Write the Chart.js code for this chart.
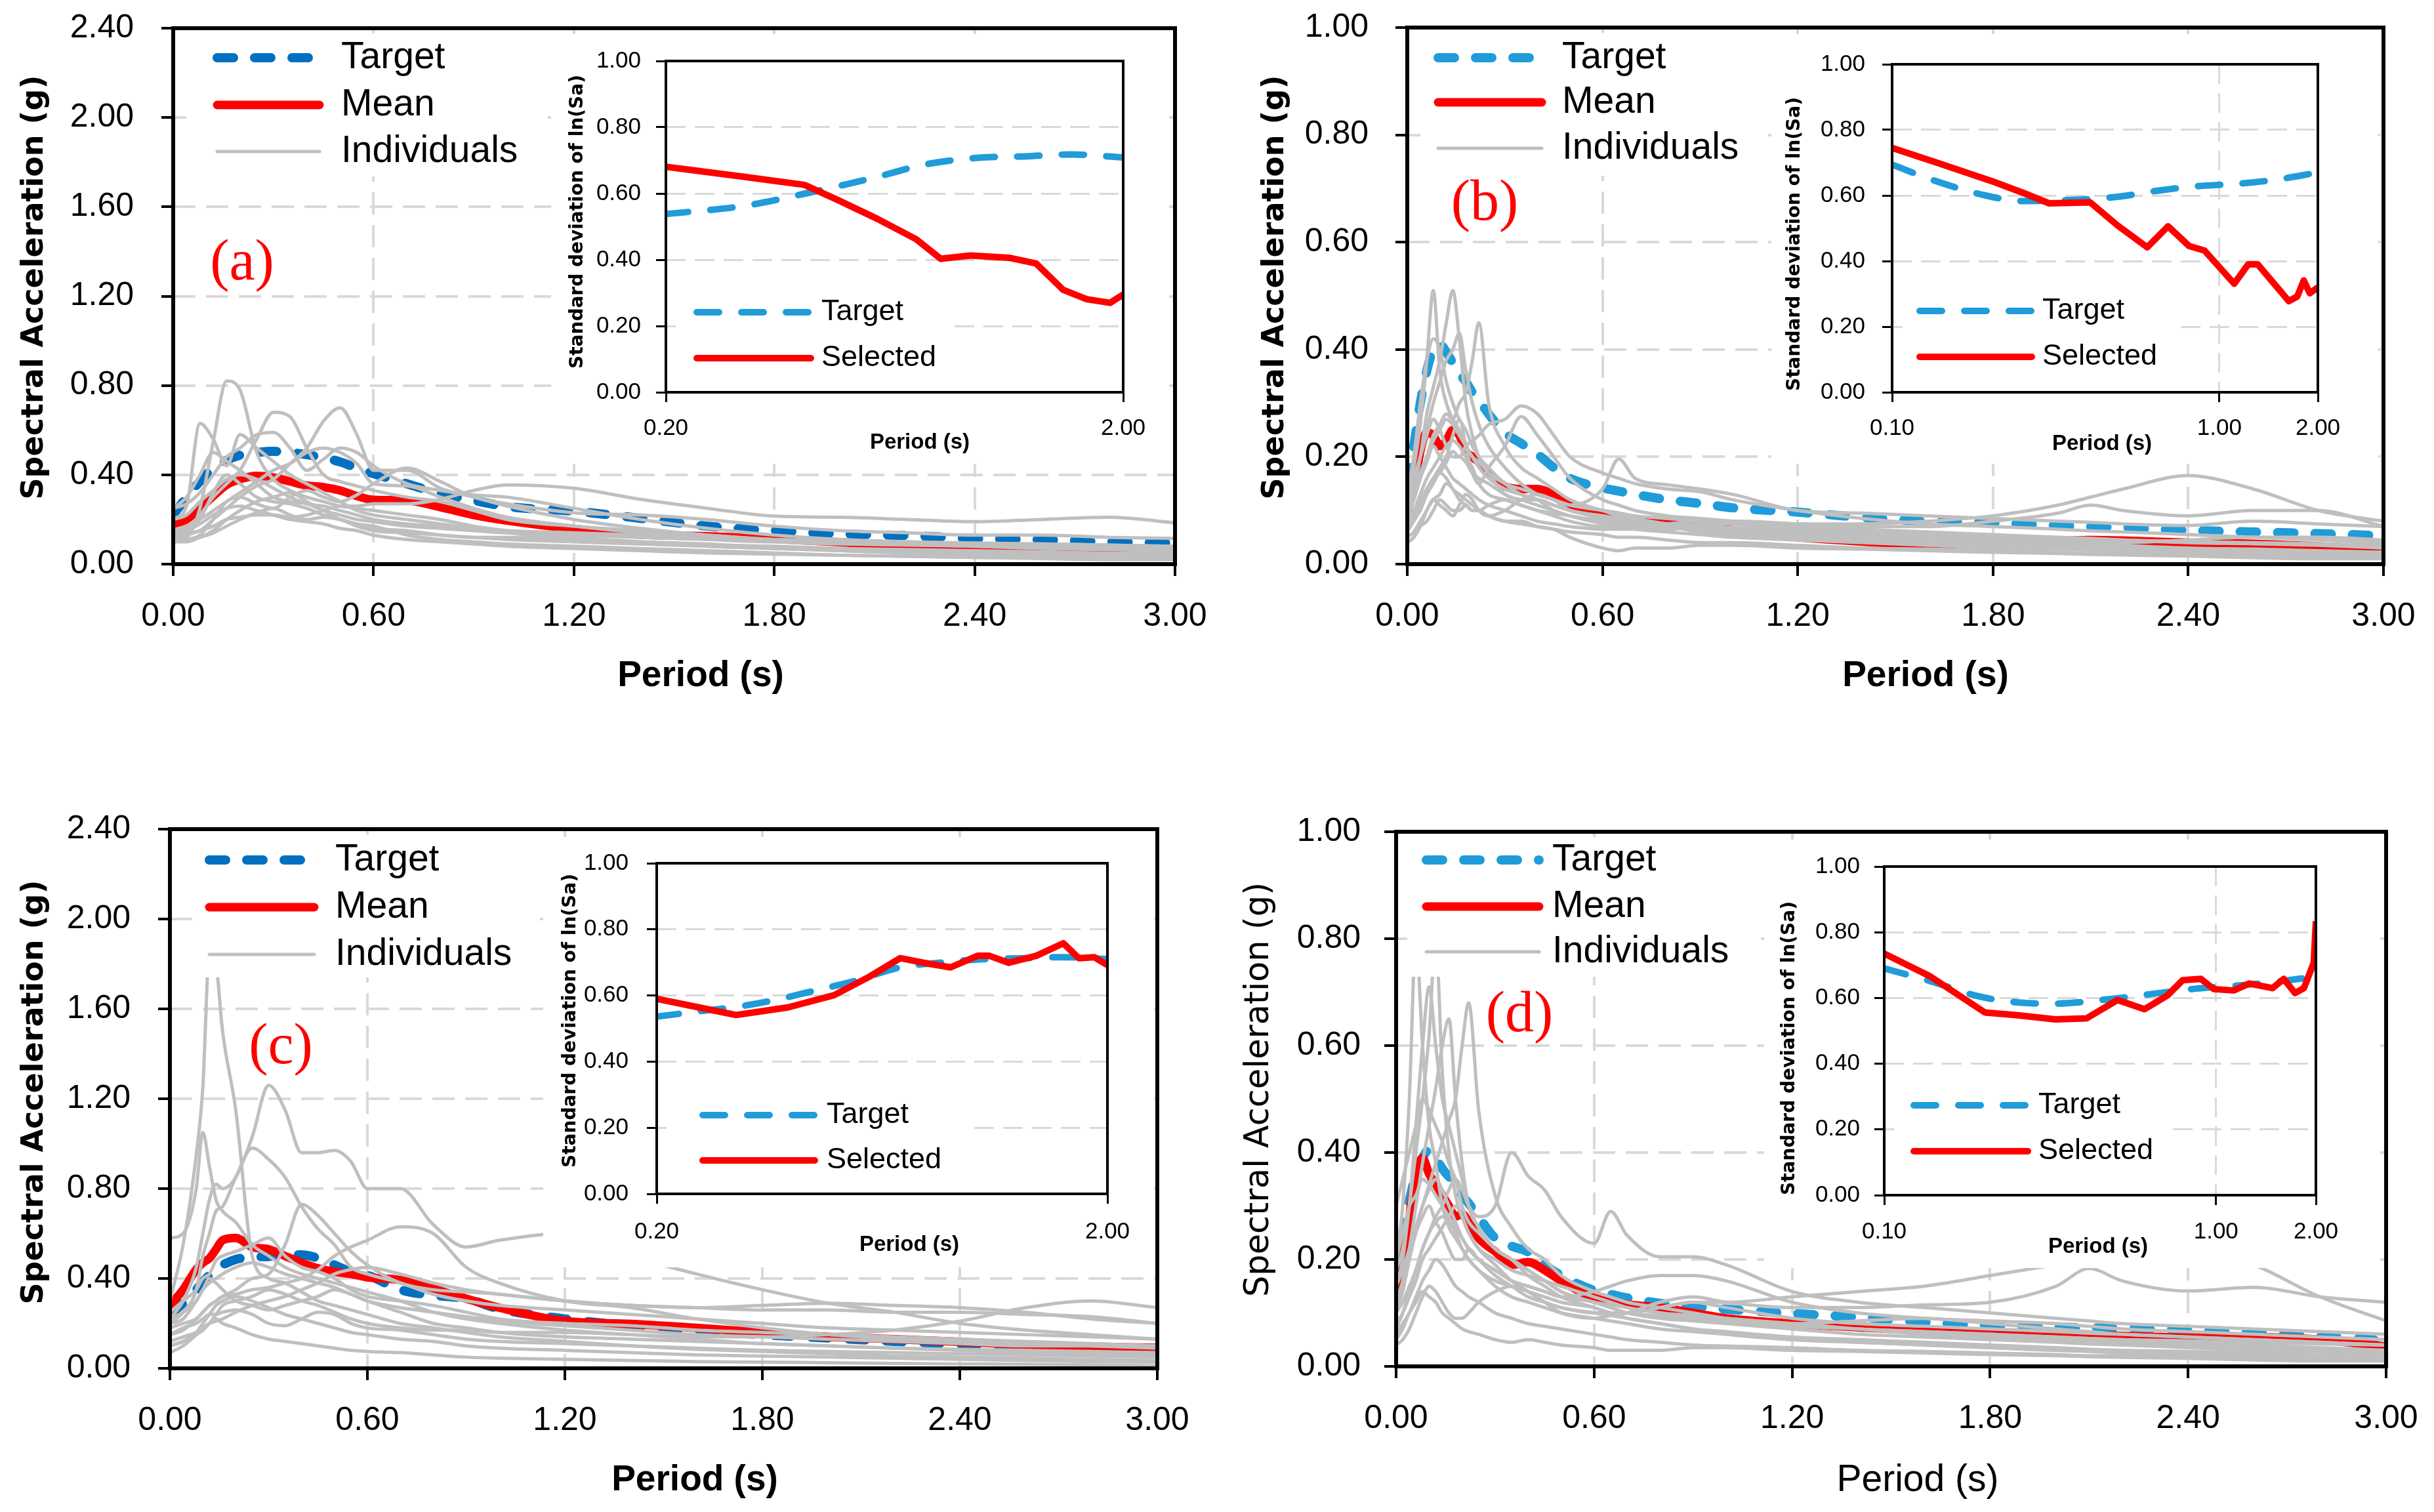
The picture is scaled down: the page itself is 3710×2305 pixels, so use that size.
<!DOCTYPE html>
<html>
<head>
<meta charset="utf-8">
<script src="https://cdn.jsdelivr.net/npm/chart.js@4.4.1/dist/chart.umd.min.js"></script>
<style>
  html, body { margin: 0; padding: 0; background: #fff; }
  body { width: 3710px; height: 2305px; position: relative; overflow: hidden; }
  canvas { position: absolute; }
  canvas.inset { background: #fff; }
</style>
</head>
<body>
<canvas id="mainA"></canvas>
<canvas id="mainB"></canvas>
<canvas id="mainC"></canvas>
<canvas id="mainD"></canvas>
<canvas id="insetA" class="inset"></canvas>
<canvas id="insetB" class="inset"></canvas>
<canvas id="insetC" class="inset"></canvas>
<canvas id="insetD" class="inset"></canvas>
<script>
// ---- tick labels ----
const periodTicks = [0, 0.6, 1.2, 1.8, 2.4, 3.0];
const saTicksAC = [0, 0.4, 0.8, 1.2, 1.6, 2.0, 2.4];
const saTicksBD = [0, 0.2, 0.4, 0.6, 0.8, 1.0];
const sdTicks = [0, 0.2, 0.4, 0.6, 0.8, 1.0];
const insetTicksAC = [0.2, 2.0];
const insetTicksBD = [0.1, 1.0, 2.0];

// ---- panel (a) ----
const periodsA = [0, 0.04, 0.08, 0.12, 0.16, 0.2, 0.25, 0.3, 0.35, 0.4, 0.45, 0.5, 0.55, 0.6, 0.7, 0.8, 0.9, 1.0, 1.2, 1.4, 1.6, 1.8, 2.0, 2.2, 2.4, 2.6, 2.8, 3.0];
const targetA = [0.22, 0.30, 0.37, 0.43, 0.465, 0.488, 0.50, 0.505, 0.50, 0.49, 0.476, 0.458, 0.43, 0.405, 0.36, 0.315, 0.285, 0.258, 0.237, 0.205, 0.17, 0.15, 0.135, 0.128, 0.115, 0.11, 0.10, 0.095];
const meanA = [0.18, 0.20, 0.25, 0.305, 0.355, 0.38, 0.395, 0.388, 0.37, 0.352, 0.345, 0.33, 0.305, 0.288, 0.285, 0.255, 0.22, 0.195, 0.158, 0.132, 0.125, 0.113, 0.098, 0.082, 0.08, 0.075, 0.07, 0.065];
const individualsA = [
  [0.11, 0.12, 0.25, 0.55, 0.82, 0.78, 0.5, 0.38, 0.33, 0.30, 0.28, 0.26, 0.25, 0.24, 0.22, 0.20, 0.17, 0.15, 0.12, 0.10, 0.08, 0.07, 0.06, 0.05, 0.045, 0.04, 0.035, 0.03],
  [0.13, 0.14, 0.15, 0.2, 0.25, 0.3, 0.35, 0.38, 0.45, 0.52, 0.64, 0.70, 0.58, 0.42, 0.42, 0.34, 0.3, 0.26, 0.2, 0.16, 0.13, 0.11, 0.10, 0.09, 0.08, 0.07, 0.065, 0.06],
  [0.14, 0.16, 0.22, 0.3, 0.36, 0.42, 0.56, 0.68, 0.66, 0.52, 0.40, 0.37, 0.35, 0.33, 0.30, 0.28, 0.24, 0.2, 0.17, 0.15, 0.13, 0.11, 0.10, 0.09, 0.085, 0.08, 0.07, 0.06],
  [0.2, 0.26, 0.63, 0.56, 0.44, 0.58, 0.52, 0.46, 0.40, 0.36, 0.32, 0.28, 0.24, 0.22, 0.2, 0.18, 0.16, 0.14, 0.11, 0.09, 0.08, 0.07, 0.06, 0.05, 0.045, 0.04, 0.035, 0.03],
  [0.25, 0.27, 0.32, 0.4, 0.48, 0.52, 0.58, 0.59, 0.52, 0.42, 0.47, 0.52, 0.5, 0.44, 0.36, 0.33, 0.31, 0.30, 0.25, 0.2, 0.16, 0.13, 0.11, 0.10, 0.09, 0.085, 0.08, 0.075],
  [0.12, 0.13, 0.15, 0.17, 0.2, 0.21, 0.22, 0.22, 0.21, 0.22, 0.24, 0.26, 0.26, 0.27, 0.27, 0.29, 0.33, 0.355, 0.34, 0.29, 0.25, 0.215, 0.21, 0.2, 0.19, 0.2, 0.21, 0.185],
  [0.1, 0.11, 0.13, 0.2, 0.28, 0.3, 0.27, 0.25, 0.3, 0.33, 0.3, 0.28, 0.31, 0.36, 0.43, 0.37, 0.3, 0.27, 0.23, 0.22, 0.2, 0.17, 0.15, 0.14, 0.13, 0.13, 0.12, 0.115],
  [0.1, 0.1, 0.12, 0.14, 0.17, 0.2, 0.23, 0.25, 0.22, 0.2, 0.21, 0.2, 0.18, 0.17, 0.13, 0.11, 0.1, 0.09, 0.08, 0.07, 0.06, 0.05, 0.04, 0.035, 0.03, 0.025, 0.02, 0.02],
  [0.15, 0.17, 0.2, 0.24, 0.28, 0.32, 0.37, 0.42, 0.45, 0.5, 0.52, 0.5, 0.45, 0.36, 0.35, 0.3, 0.25, 0.21, 0.17, 0.14, 0.12, 0.1, 0.09, 0.085, 0.08, 0.075, 0.07, 0.07],
  [0.12, 0.14, 0.2, 0.32, 0.4, 0.36, 0.3, 0.28, 0.27, 0.25, 0.22, 0.2, 0.17, 0.15, 0.14, 0.13, 0.12, 0.11, 0.1, 0.09, 0.085, 0.08, 0.07, 0.065, 0.06, 0.055, 0.05, 0.05],
  [0.25, 0.3, 0.4, 0.5, 0.46, 0.42, 0.36, 0.3, 0.28, 0.27, 0.24, 0.22, 0.2, 0.19, 0.17, 0.16, 0.15, 0.14, 0.13, 0.12, 0.11, 0.1, 0.1, 0.095, 0.09, 0.09, 0.085, 0.08],
  [0.1, 0.11, 0.12, 0.15, 0.2, 0.24, 0.28, 0.3, 0.32, 0.28, 0.24, 0.2, 0.18, 0.16, 0.15, 0.13, 0.12, 0.12, 0.11, 0.1, 0.09, 0.075, 0.065, 0.06, 0.055, 0.05, 0.045, 0.04],
  [0.13, 0.15, 0.18, 0.22, 0.25, 0.26, 0.24, 0.22, 0.2, 0.19, 0.18, 0.16, 0.15, 0.13, 0.11, 0.1, 0.09, 0.08, 0.07, 0.06, 0.05, 0.045, 0.04, 0.035, 0.03, 0.028, 0.025, 0.022],
  [0.2, 0.22, 0.28, 0.33, 0.38, 0.4, 0.38, 0.34, 0.3, 0.27, 0.26, 0.24, 0.22, 0.2, 0.18, 0.17, 0.16, 0.15, 0.14, 0.13, 0.12, 0.11, 0.105, 0.1, 0.095, 0.09, 0.085, 0.08]
];
const insetTargetPeriodsA = [0.2, 0.298, 0.407, 0.579, 0.733, 0.964, 1.217, 1.54, 2.0];
const insetTargetA = [0.538, 0.563, 0.601, 0.65, 0.687, 0.708, 0.712, 0.718, 0.709];
const insetSelectedPeriodsA = [0.2, 0.298, 0.402, 0.476, 0.579, 0.705, 0.798, 0.927, 1.125, 1.29, 1.479, 1.664, 1.871, 2.0];
const insetSelectedA = [0.681, 0.65, 0.626, 0.58, 0.524, 0.462, 0.403, 0.413, 0.406, 0.389, 0.309, 0.281, 0.27, 0.295];

// ---- panel (b) ----
const periodsB = [0, 0.02, 0.04, 0.06, 0.08, 0.1, 0.12, 0.14, 0.16, 0.18, 0.2, 0.22, 0.25, 0.3, 0.35, 0.4, 0.45, 0.5, 0.6, 0.65, 0.7, 0.8, 0.9, 1.0, 1.2, 1.4, 1.6, 1.8, 2.0, 2.1, 2.2, 2.4, 2.6, 2.8, 3.0];
const targetB = [0.15, 0.22, 0.30, 0.36, 0.40, 0.41, 0.395, 0.375, 0.355, 0.34, 0.32, 0.305, 0.28, 0.245, 0.225, 0.205, 0.18, 0.16, 0.142, 0.136, 0.13, 0.12, 0.113, 0.105, 0.097, 0.087, 0.08, 0.077, 0.072, 0.07, 0.068, 0.063, 0.06, 0.057, 0.053];
const meanB = [0.10, 0.14, 0.21, 0.245, 0.24, 0.22, 0.23, 0.25, 0.24, 0.21, 0.2, 0.19, 0.17, 0.145, 0.14, 0.14, 0.13, 0.112, 0.095, 0.09, 0.084, 0.077, 0.072, 0.063, 0.05, 0.042, 0.036, 0.04, 0.043, 0.045, 0.044, 0.04, 0.038, 0.033, 0.028];
const individualsB = [
  [0.12, 0.18, 0.26, 0.38, 0.51, 0.36, 0.3, 0.27, 0.25, 0.22, 0.2, 0.18, 0.16, 0.14, 0.13, 0.12, 0.11, 0.1, 0.085, 0.08, 0.075, 0.07, 0.065, 0.06, 0.05, 0.045, 0.04, 0.035, 0.03, 0.029, 0.028, 0.025, 0.022, 0.02, 0.018],
  [0.1, 0.14, 0.2, 0.28, 0.33, 0.38, 0.45, 0.51, 0.42, 0.3, 0.24, 0.2, 0.17, 0.13, 0.12, 0.11, 0.1, 0.09, 0.08, 0.078, 0.075, 0.07, 0.06, 0.055, 0.05, 0.045, 0.04, 0.035, 0.03, 0.029, 0.028, 0.025, 0.022, 0.02, 0.018],
  [0.09, 0.12, 0.16, 0.2, 0.24, 0.26, 0.28, 0.27, 0.3, 0.32, 0.38, 0.45, 0.3, 0.22, 0.18, 0.16, 0.14, 0.12, 0.1, 0.09, 0.085, 0.075, 0.07, 0.065, 0.055, 0.05, 0.045, 0.04, 0.035, 0.032, 0.03, 0.028, 0.025, 0.022, 0.02],
  [0.13, 0.2, 0.3, 0.38, 0.42, 0.4, 0.34, 0.3, 0.27, 0.25, 0.22, 0.2, 0.18, 0.15, 0.13, 0.12, 0.1, 0.09, 0.075, 0.07, 0.065, 0.06, 0.055, 0.05, 0.045, 0.04, 0.035, 0.03, 0.028, 0.026, 0.025, 0.022, 0.02, 0.018, 0.016],
  [0.11, 0.15, 0.2, 0.25, 0.3, 0.34, 0.38, 0.4, 0.43, 0.36, 0.3, 0.26, 0.22, 0.18, 0.15, 0.13, 0.12, 0.1, 0.09, 0.085, 0.08, 0.075, 0.07, 0.065, 0.06, 0.055, 0.05, 0.045, 0.04, 0.038, 0.035, 0.03, 0.028, 0.025, 0.022],
  [0.08, 0.1, 0.12, 0.14, 0.16, 0.17, 0.19, 0.21, 0.2, 0.22, 0.23, 0.24, 0.26, 0.27, 0.295, 0.28, 0.24, 0.2, 0.17, 0.16, 0.15, 0.14, 0.135, 0.12, 0.1, 0.085, 0.075, 0.07, 0.065, 0.062, 0.06, 0.055, 0.05, 0.045, 0.04],
  [0.07, 0.09, 0.11, 0.14, 0.16, 0.18, 0.2, 0.24, 0.27, 0.22, 0.17, 0.15, 0.18, 0.22, 0.275, 0.24, 0.2, 0.16, 0.12, 0.11, 0.1, 0.09, 0.085, 0.08, 0.07, 0.065, 0.06, 0.055, 0.05, 0.048, 0.045, 0.04, 0.038, 0.035, 0.03],
  [0.05, 0.06, 0.08, 0.1, 0.12, 0.11, 0.1, 0.09, 0.11, 0.13, 0.12, 0.1, 0.09, 0.1, 0.12, 0.13, 0.12, 0.11, 0.14, 0.196, 0.16, 0.148, 0.14, 0.13, 0.1, 0.095, 0.09, 0.085, 0.08, 0.078, 0.075, 0.072, 0.08, 0.075, 0.07],
  [0.04, 0.05, 0.07, 0.1, 0.12, 0.13, 0.15, 0.14, 0.12, 0.11, 0.1, 0.1, 0.11, 0.12, 0.11, 0.1, 0.09, 0.08, 0.07, 0.07, 0.07, 0.075, 0.08, 0.08, 0.075, 0.075, 0.08, 0.09, 0.11, 0.125, 0.14, 0.165, 0.14, 0.1, 0.08],
  [0.09, 0.12, 0.16, 0.19, 0.22, 0.2, 0.18, 0.16, 0.15, 0.14, 0.13, 0.12, 0.11, 0.1, 0.09, 0.08, 0.075, 0.07, 0.065, 0.065, 0.065, 0.07, 0.075, 0.08, 0.075, 0.07, 0.07, 0.08, 0.095, 0.11, 0.1, 0.09, 0.1, 0.1, 0.07],
  [0.04, 0.05, 0.07, 0.08, 0.1, 0.12, 0.11, 0.1, 0.1, 0.11, 0.1, 0.1, 0.09, 0.08, 0.08, 0.07, 0.065, 0.05, 0.03, 0.025, 0.03, 0.03, 0.035, 0.035, 0.03, 0.028, 0.025, 0.022, 0.02, 0.018, 0.017, 0.015, 0.012, 0.01, 0.01],
  [0.13, 0.16, 0.2, 0.24, 0.27, 0.25, 0.22, 0.2, 0.2, 0.19, 0.17, 0.16, 0.15, 0.13, 0.12, 0.12, 0.11, 0.1, 0.09, 0.085, 0.08, 0.075, 0.07, 0.068, 0.062, 0.06, 0.055, 0.05, 0.045, 0.042, 0.04, 0.045, 0.05, 0.05, 0.045],
  [0.06, 0.08, 0.1, 0.13, 0.15, 0.17, 0.16, 0.14, 0.13, 0.12, 0.11, 0.1, 0.09, 0.08, 0.075, 0.07, 0.065, 0.06, 0.055, 0.05, 0.05, 0.045, 0.04, 0.04, 0.035, 0.03, 0.028, 0.025, 0.022, 0.02, 0.02, 0.018, 0.016, 0.015, 0.014],
  [0.1, 0.13, 0.17, 0.2, 0.23, 0.25, 0.27, 0.26, 0.24, 0.22, 0.2, 0.19, 0.17, 0.15, 0.14, 0.13, 0.12, 0.11, 0.1, 0.095, 0.09, 0.085, 0.08, 0.075, 0.065, 0.06, 0.055, 0.05, 0.048, 0.046, 0.045, 0.042, 0.04, 0.038, 0.035],
  [0.08, 0.1, 0.13, 0.16, 0.18, 0.2, 0.22, 0.23, 0.22, 0.2, 0.18, 0.15, 0.13, 0.12, 0.11, 0.1, 0.095, 0.09, 0.08, 0.075, 0.07, 0.065, 0.07, 0.075, 0.07, 0.06, 0.05, 0.04, 0.035, 0.032, 0.03, 0.028, 0.026, 0.024, 0.022]
];
const insetTargetPeriodsB = [0.1, 0.1315, 0.193, 0.253, 0.351, 0.488, 0.641, 0.846, 1.11, 1.46, 2.0];
const insetTargetB = [0.694, 0.649, 0.60, 0.583, 0.586, 0.596, 0.614, 0.628, 0.635, 0.647, 0.670];
const insetSelectedPeriodsB = [0.1, 0.139, 0.204, 0.253, 0.302, 0.403, 0.488, 0.602, 0.697, 0.808, 0.901, 1.11, 1.225, 1.31, 1.63, 1.73, 1.81, 1.89, 2.0];
const insetSelectedB = [0.745, 0.698, 0.642, 0.607, 0.576, 0.579, 0.509, 0.442, 0.506, 0.446, 0.432, 0.331, 0.39, 0.39, 0.278, 0.292, 0.341, 0.302, 0.32];

// ---- panel (c) ----
const periodsC = [0, 0.04, 0.08, 0.1, 0.12, 0.14, 0.16, 0.2, 0.25, 0.3, 0.35, 0.4, 0.45, 0.5, 0.55, 0.6, 0.7, 0.8, 0.9, 1.0, 1.2, 1.4, 1.6, 1.8, 2.0, 2.2, 2.4, 2.6, 2.8, 3.0];
const targetC = [0.24, 0.29, 0.35, 0.385, 0.415, 0.44, 0.46, 0.485, 0.495, 0.498, 0.505, 0.505, 0.49, 0.46, 0.43, 0.415, 0.35, 0.325, 0.31, 0.265, 0.22, 0.19, 0.17, 0.15, 0.135, 0.12, 0.108, 0.095, 0.085, 0.076];
const meanC = [0.28, 0.35, 0.44, 0.47, 0.49, 0.53, 0.57, 0.58, 0.54, 0.53, 0.50, 0.47, 0.445, 0.43, 0.42, 0.405, 0.393, 0.355, 0.31, 0.27, 0.21, 0.198, 0.18, 0.16, 0.14, 0.13, 0.118, 0.105, 0.097, 0.091];
const individualsC = [
  [0.3, 0.55, 0.95, 1.25, 1.85, 1.8, 1.5, 1.15, 0.5, 0.4, 0.38, 0.34, 0.3, 0.28, 0.26, 0.24, 0.2, 0.18, 0.16, 0.14, 0.12, 0.1, 0.085, 0.075, 0.065, 0.055, 0.05, 0.045, 0.04, 0.035],
  [0.22, 0.3, 0.45, 0.6, 0.75, 0.82, 0.8, 0.85, 1.03, 1.26, 1.15, 0.96, 0.96, 0.97, 0.92, 0.8, 0.8, 0.64, 0.54, 0.57, 0.6, 0.5, 0.42, 0.35, 0.29, 0.25, 0.2, 0.17, 0.15, 0.13],
  [0.58, 0.6, 0.8, 1.05, 0.9, 0.75, 0.7, 0.65, 0.55, 0.5, 0.45, 0.42, 0.4, 0.38, 0.36, 0.34, 0.3, 0.25, 0.22, 0.2, 0.17, 0.15, 0.13, 0.11, 0.1, 0.09, 0.08, 0.07, 0.065, 0.06],
  [0.2, 0.25, 0.35, 0.5, 0.6, 0.7, 0.72, 0.85, 0.98, 0.93, 0.85, 0.72, 0.62, 0.55, 0.45, 0.42, 0.38, 0.33, 0.3, 0.28, 0.26, 0.24, 0.22, 0.2, 0.18, 0.17, 0.16, 0.15, 0.14, 0.13],
  [0.15, 0.17, 0.22, 0.25, 0.28, 0.3, 0.32, 0.35, 0.4, 0.42, 0.55, 0.73, 0.68, 0.6, 0.52, 0.46, 0.38, 0.35, 0.34, 0.33, 0.3, 0.28, 0.27, 0.26, 0.26, 0.25, 0.25, 0.24, 0.23, 0.2],
  [0.18, 0.2, 0.22, 0.25, 0.28, 0.3, 0.32, 0.33, 0.35, 0.36, 0.38, 0.4, 0.44, 0.5, 0.54, 0.57, 0.63, 0.6, 0.45, 0.38, 0.3, 0.27, 0.22, 0.18, 0.15, 0.13, 0.12, 0.11, 0.1, 0.09],
  [0.25, 0.3, 0.35, 0.4, 0.42, 0.48, 0.5, 0.52, 0.55, 0.58, 0.5, 0.45, 0.43, 0.4, 0.35, 0.32, 0.3, 0.28, 0.25, 0.22, 0.2, 0.19, 0.17, 0.16, 0.15, 0.14, 0.13, 0.12, 0.11, 0.1],
  [0.12, 0.14, 0.16, 0.18, 0.2, 0.21, 0.22, 0.25, 0.28, 0.3, 0.32, 0.35, 0.38, 0.42, 0.44, 0.45, 0.42, 0.38, 0.35, 0.33, 0.3, 0.28, 0.27, 0.28, 0.29, 0.28, 0.27, 0.25, 0.22, 0.2],
  [0.1, 0.12, 0.15, 0.17, 0.2, 0.24, 0.28, 0.3, 0.32, 0.35, 0.33, 0.3, 0.28, 0.25, 0.22, 0.2, 0.18, 0.17, 0.17, 0.16, 0.16, 0.15, 0.14, 0.14, 0.15, 0.17, 0.21, 0.27, 0.3, 0.27],
  [0.07, 0.1, 0.15, 0.18, 0.2, 0.22, 0.2, 0.18, 0.15, 0.13, 0.12, 0.11, 0.1, 0.09, 0.08, 0.075, 0.07, 0.06, 0.05, 0.045, 0.04, 0.035, 0.03, 0.028, 0.025, 0.022, 0.02, 0.018, 0.015, 0.012],
  [0.15, 0.18, 0.2, 0.22, 0.24, 0.24, 0.25, 0.26, 0.24, 0.2, 0.19, 0.22, 0.25, 0.24, 0.2, 0.18, 0.17, 0.15, 0.13, 0.12, 0.11, 0.1, 0.09, 0.08, 0.075, 0.07, 0.065, 0.06, 0.055, 0.05],
  [0.2, 0.22, 0.3, 0.35, 0.4, 0.38, 0.35, 0.3, 0.28, 0.26, 0.28, 0.3, 0.32, 0.35, 0.33, 0.3, 0.25, 0.2, 0.18, 0.16, 0.14, 0.13, 0.12, 0.11, 0.1, 0.09, 0.085, 0.08, 0.075, 0.07],
  [0.1, 0.12, 0.16, 0.2, 0.24, 0.28, 0.3, 0.32, 0.3, 0.27, 0.24, 0.22, 0.2, 0.18, 0.16, 0.15, 0.13, 0.12, 0.1, 0.09, 0.08, 0.07, 0.06, 0.055, 0.05, 0.045, 0.04, 0.035, 0.03, 0.028],
  [0.22, 0.25, 0.3, 0.35, 0.38, 0.4, 0.42, 0.45, 0.47, 0.45, 0.42, 0.4, 0.38, 0.36, 0.33, 0.3, 0.27, 0.25, 0.23, 0.21, 0.19, 0.17, 0.15, 0.14, 0.13, 0.12, 0.11, 0.1, 0.1, 0.095]
];
const insetTargetPeriodsC = [0.2, 0.248, 0.302, 0.368, 0.449, 0.547, 0.694, 0.847, 1.03, 1.31, 1.596, 2.0];
const insetTargetC = [0.536, 0.552, 0.566, 0.587, 0.615, 0.643, 0.685, 0.699, 0.709, 0.713, 0.716, 0.71];
const insetSelectedPeriodsC = [0.2, 0.248, 0.30, 0.391, 0.495, 0.593, 0.694, 0.782, 0.897, 1.03, 1.094, 1.208, 1.39, 1.596, 1.727, 1.87, 2.0];
const insetSelectedC = [0.59, 0.564, 0.541, 0.564, 0.601, 0.657, 0.713, 0.699, 0.685, 0.72, 0.72, 0.699, 0.72, 0.758, 0.713, 0.716, 0.692];

// ---- panel (d) ----
const periodsD = [0, 0.02, 0.04, 0.06, 0.08, 0.1, 0.12, 0.14, 0.16, 0.18, 0.2, 0.22, 0.25, 0.3, 0.35, 0.4, 0.45, 0.5, 0.6, 0.65, 0.7, 0.8, 0.9, 1.0, 1.2, 1.4, 1.6, 1.8, 2.0, 2.1, 2.2, 2.4, 2.6, 2.8, 3.0];
const targetD = [0.17, 0.25, 0.31, 0.36, 0.39, 0.405, 0.39, 0.37, 0.355, 0.345, 0.32, 0.305, 0.28, 0.24, 0.225, 0.214, 0.19, 0.17, 0.142, 0.135, 0.128, 0.118, 0.112, 0.107, 0.099, 0.092, 0.083, 0.077, 0.074, 0.072, 0.071, 0.067, 0.062, 0.056, 0.048];
const meanD = [0.14, 0.2, 0.28, 0.36, 0.39, 0.36, 0.34, 0.32, 0.3, 0.28, 0.285, 0.27, 0.24, 0.215, 0.19, 0.195, 0.18, 0.16, 0.128, 0.122, 0.116, 0.11, 0.1, 0.09, 0.08, 0.073, 0.067, 0.063, 0.06, 0.058, 0.057, 0.054, 0.055, 0.05, 0.037];
const individualsD = [
  [0.2, 0.3, 0.5, 0.8, 0.6, 0.45, 0.38, 0.3, 0.26, 0.24, 0.22, 0.2, 0.18, 0.15, 0.13, 0.12, 0.11, 0.1, 0.09, 0.085, 0.08, 0.07, 0.065, 0.06, 0.05, 0.045, 0.04, 0.035, 0.03, 0.029, 0.028, 0.025, 0.022, 0.02, 0.018],
  [0.15, 0.2, 0.3, 0.4, 0.5, 0.62, 0.8, 0.55, 0.4, 0.32, 0.28, 0.25, 0.22, 0.19, 0.16, 0.14, 0.12, 0.11, 0.1, 0.095, 0.09, 0.08, 0.07, 0.065, 0.055, 0.05, 0.045, 0.04, 0.035, 0.032, 0.03, 0.028, 0.025, 0.022, 0.02],
  [0.18, 0.22, 0.3, 0.45, 0.6, 0.71, 0.6, 0.5, 0.45, 0.4, 0.35, 0.3, 0.26, 0.22, 0.2, 0.18, 0.16, 0.14, 0.12, 0.11, 0.1, 0.09, 0.085, 0.08, 0.07, 0.06, 0.055, 0.05, 0.045, 0.042, 0.04, 0.035, 0.03, 0.028, 0.025],
  [0.12, 0.16, 0.22, 0.3, 0.38, 0.45, 0.52, 0.6, 0.65, 0.5, 0.38, 0.3, 0.26, 0.22, 0.2, 0.18, 0.16, 0.14, 0.12, 0.115, 0.11, 0.1, 0.095, 0.09, 0.08, 0.07, 0.065, 0.06, 0.055, 0.052, 0.05, 0.045, 0.04, 0.035, 0.03],
  [0.1, 0.14, 0.2, 0.26, 0.3, 0.34, 0.38, 0.42, 0.46, 0.5, 0.6, 0.68, 0.48, 0.32, 0.26, 0.22, 0.2, 0.17, 0.14, 0.13, 0.12, 0.11, 0.1, 0.09, 0.08, 0.07, 0.06, 0.055, 0.05, 0.048, 0.045, 0.04, 0.035, 0.03, 0.028],
  [0.07, 0.1, 0.14, 0.18, 0.22, 0.25, 0.28, 0.3, 0.33, 0.35, 0.33, 0.3, 0.28, 0.3, 0.4, 0.356, 0.33, 0.28, 0.23, 0.29, 0.245, 0.205, 0.205, 0.19, 0.14, 0.12, 0.11, 0.1, 0.09, 0.085, 0.08, 0.075, 0.07, 0.065, 0.06],
  [0.04, 0.05, 0.07, 0.1, 0.13, 0.15, 0.14, 0.12, 0.1, 0.09, 0.09, 0.1, 0.12, 0.14, 0.15, 0.14, 0.12, 0.1, 0.09, 0.095, 0.1, 0.12, 0.13, 0.12, 0.11, 0.11, 0.115, 0.12, 0.15, 0.183, 0.16, 0.141, 0.148, 0.13, 0.12],
  [0.12, 0.15, 0.2, 0.25, 0.28, 0.3, 0.27, 0.25, 0.22, 0.2, 0.2, 0.22, 0.2, 0.18, 0.16, 0.15, 0.14, 0.13, 0.14, 0.15, 0.16, 0.17, 0.17, 0.16, 0.12, 0.1, 0.09, 0.085, 0.08, 0.075, 0.07, 0.065, 0.06, 0.055, 0.05],
  [0.05, 0.07, 0.1, 0.12, 0.14, 0.13, 0.12, 0.1, 0.09, 0.08, 0.07, 0.065, 0.06, 0.05, 0.045, 0.05, 0.045, 0.04, 0.035, 0.03, 0.03, 0.03, 0.035, 0.035, 0.03, 0.028, 0.025, 0.022, 0.02, 0.018, 0.017, 0.015, 0.012, 0.01, 0.01],
  [0.2, 0.25, 0.3, 0.32, 0.35, 0.34, 0.32, 0.3, 0.28, 0.26, 0.24, 0.22, 0.2, 0.17, 0.15, 0.13, 0.12, 0.11, 0.1, 0.1, 0.1, 0.11, 0.12, 0.12, 0.13, 0.14, 0.15, 0.17, 0.19, 0.2, 0.22, 0.23, 0.19, 0.13, 0.085],
  [0.08, 0.1, 0.13, 0.16, 0.2, 0.22, 0.24, 0.26, 0.28, 0.3, 0.28, 0.25, 0.22, 0.2, 0.18, 0.17, 0.16, 0.15, 0.13, 0.12, 0.11, 0.1, 0.09, 0.085, 0.08, 0.085, 0.09, 0.08, 0.07, 0.065, 0.06, 0.055, 0.05, 0.045, 0.04],
  [0.3, 0.35, 0.4, 0.45, 0.5, 0.48, 0.45, 0.42, 0.38, 0.35, 0.3, 0.27, 0.25, 0.22, 0.2, 0.17, 0.15, 0.13, 0.11, 0.1, 0.09, 0.08, 0.07, 0.06, 0.05, 0.045, 0.04, 0.035, 0.03, 0.028, 0.025, 0.022, 0.02, 0.018, 0.015],
  [0.06, 0.08, 0.1, 0.13, 0.16, 0.18, 0.2, 0.19, 0.17, 0.15, 0.14, 0.13, 0.12, 0.1, 0.09, 0.08, 0.075, 0.07, 0.06, 0.055, 0.05, 0.045, 0.04, 0.038, 0.035, 0.03, 0.028, 0.025, 0.022, 0.02, 0.02, 0.018, 0.016, 0.015, 0.014],
  [0.15, 0.18, 0.22, 0.26, 0.3, 0.33, 0.35, 0.33, 0.3, 0.27, 0.24, 0.22, 0.2, 0.18, 0.16, 0.15, 0.14, 0.13, 0.12, 0.11, 0.1, 0.095, 0.09, 0.085, 0.075, 0.07, 0.065, 0.06, 0.055, 0.052, 0.05, 0.048, 0.045, 0.042, 0.04],
  [0.1, 0.12, 0.15, 0.18, 0.22, 0.25, 0.27, 0.28, 0.27, 0.25, 0.22, 0.2, 0.18, 0.16, 0.15, 0.14, 0.13, 0.12, 0.11, 0.1, 0.1, 0.11, 0.12, 0.11, 0.09, 0.08, 0.075, 0.07, 0.065, 0.062, 0.06, 0.055, 0.05, 0.045, 0.04]
];
const insetTargetPeriodsD = [0.1, 0.138, 0.191, 0.25, 0.328, 0.453, 0.626, 0.862, 1.13, 1.48, 2.0];
const insetTargetD = [0.69, 0.651, 0.606, 0.587, 0.583, 0.594, 0.611, 0.628, 0.637, 0.648, 0.665];
const insetSelectedPeriodsD = [0.1, 0.138, 0.201, 0.25, 0.328, 0.407, 0.505, 0.609, 0.714, 0.793, 0.901, 0.985, 1.13, 1.26, 1.48, 1.6, 1.73, 1.84, 1.97, 2.0];
const insetSelectedD = [0.735, 0.665, 0.556, 0.548, 0.535, 0.538, 0.594, 0.566, 0.608, 0.654, 0.658, 0.627, 0.623, 0.644, 0.63, 0.658, 0.615, 0.63, 0.707, 0.834];

// ---- styling ----
const GRAY = '#BFBFBF';
const RED = '#FF0000';
const DARK_BLUE = '#0070C0';
const LIGHT_BLUE = '#1F9CD9';
const GRID = '#D9D9D9';

function place(cv, box) {
    cv.width = box.w;
    cv.height = box.h;
    cv.style.left = box.x + 'px';
    cv.style.top = box.y + 'px';
    cv.style.width = box.w + 'px';
    cv.style.height = box.h + 'px';
}

function axis(o) {
    return {
        type: o.type || 'linear',
        min: o.min,
        max: o.max,
        afterBuildTicks: s => { s.ticks = o.ticks.map(v => ({ value: v })); },
        afterFit: s => {
            o.fit(s);
            // keep the plot area exactly where the padding puts it
            s.paddingTop = 0;
            s.paddingBottom = 0;
            s.paddingLeft = 0;
            s.paddingRight = 0;
        },
        ticks: {
            autoSkip: false,
            maxRotation: 0,
            color: '#000',
            padding: o.pad,
            font: { family: 'Liberation Sans', size: o.fontSize },
            callback: v => Number(v).toFixed(2)
        },
        grid: {
            color: GRID,
            lineWidth: o.gridWidth,
            tickLength: o.tickLength,
            tickColor: '#000',
            tickWidth: o.tickWidth
        },
        border: { display: false, dash: o.dash }
    };
}

// legend, frame, titles and panel letter, drawn over the data
function decor(d) {
    return {
        id: 'decor',
        afterDatasetsDraw(chart) {
            const ctx = chart.ctx;
            const a = chart.chartArea;
            const ox = d.ox, oy = d.oy;
            ctx.save();
            ctx.fillStyle = '#fff';
            ctx.fillRect(d.box[0] - ox, d.box[1] - oy, d.box[2] - d.box[0], d.box[3] - d.box[1]);
            d.legend.forEach(item => {
                const ds = chart.data.datasets.find(s => s.label === item.label);
                ctx.beginPath();
                ctx.strokeStyle = ds.borderColor;
                ctx.lineWidth = ds.borderWidth;
                ctx.setLineDash(ds.borderDash || []);
                ctx.lineCap = 'round';
                ctx.moveTo(d.line[0] - ox, item.y - oy);
                ctx.lineTo(d.line[1] - ox, item.y - oy);
                ctx.stroke();
                ctx.setLineDash([]);
                ctx.fillStyle = '#000';
                ctx.font = d.legendFont;
                ctx.textAlign = 'left';
                ctx.textBaseline = 'middle';
                ctx.fillText(item.label, d.textX - ox, item.y - oy);
            });
            ctx.lineWidth = d.frame;
            ctx.strokeStyle = '#000';
            ctx.lineCap = 'butt';
            ctx.strokeRect(a.left, a.top, a.right - a.left, a.bottom - a.top);
            if (d.tag) {
                ctx.fillStyle = RED;
                ctx.font = '88px "Liberation Serif"';
                ctx.textAlign = 'center';
                ctx.textBaseline = 'middle';
                ctx.fillText(d.tag.text, d.tag.x - ox, d.tag.y - oy);
            }
            d.titles.forEach(t => {
                ctx.save();
                ctx.fillStyle = '#000';
                ctx.font = t.font;
                ctx.textAlign = 'center';
                ctx.textBaseline = 'middle';
                ctx.translate(t.x - ox, t.y - oy);
                if (t.rot) ctx.rotate(-Math.PI / 2);
                ctx.fillText(t.text, 0, 0);
                ctx.restore();
            });
            ctx.restore();
        }
    };
}

function mainChart(p) {
    const cv = document.getElementById(p.id);
    place(cv, p.canvas);
    const L = p.plot[0] - p.canvas.x, T = p.plot[1] - p.canvas.y;
    const R = p.plot[2] - p.canvas.x, B = p.plot[3] - p.canvas.y;
    const pts = vals => vals.map((v, i) => ({ x: p.periods[i], y: v }));
    const datasets = p.individuals.map((vals, k) => ({
        label: k === 0 ? 'Individuals' : 'Individual ' + (k + 1),
        data: pts(vals),
        borderColor: GRAY,
        borderWidth: 5
    }));
    datasets.push({ label: 'Mean', data: pts(p.mean), borderColor: RED, borderWidth: 13 });
    datasets.push({ label: 'Target', data: pts(p.target), borderColor: p.targetColor, borderWidth: 14,
                    borderDash: [25, 32], borderCapStyle: 'round' });
    new Chart(cv, {
        type: 'line',
        data: { datasets },
        options: {
            responsive: false,
            animation: false,
            devicePixelRatio: 1,
            layout: { padding: { left: 0, top: T, right: p.canvas.w - R, bottom: 0 } },
            elements: {
                point: { radius: 0 },
                line: { cubicInterpolationMode: 'monotone', borderJoinStyle: 'round' }
            },
            plugins: { legend: { display: false }, tooltip: { enabled: false } },
            scales: {
                x: axis({ min: 0, max: 3, ticks: periodTicks, pad: 32, fontSize: 50, gridWidth: 4,
                          tickLength: 18, tickWidth: 4, dash: [34, 16],
                          fit: s => { s.height = p.canvas.h - B; } }),
                y: axis({ min: 0, max: p.yTicks[p.yTicks.length - 1], ticks: p.yTicks, pad: p.yPad,
                          fontSize: 50, gridWidth: 4, tickLength: 18, tickWidth: 4, dash: [34, 16],
                          fit: s => { s.width = L; } })
            }
        },
        plugins: [decor({
            ox: p.canvas.x, oy: p.canvas.y,
            box: p.legendBox, line: p.legendLine, textX: p.legendTextX,
            legendFont: '57px "Liberation Sans"',
            legend: [
                { label: 'Target', y: p.legendRows[0] },
                { label: 'Mean', y: p.legendRows[1] },
                { label: 'Individuals', y: p.legendRows[2] }
            ],
            frame: 6,
            tag: p.tag,
            titles: [
                { text: 'Spectral Acceleration (g)', x: p.yTitle[0], y: p.yTitle[1], rot: true,
                  font: p.boldTitles ? 'bold 46px "DejaVu Sans"' : '51px "DejaVu Sans"' },
                { text: 'Period (s)', x: p.xTitle[0], y: p.xTitle[1],
                  font: p.boldTitles ? 'bold 55px "Liberation Sans"' : '57px "Liberation Sans"' }
            ]
        })]
    });
}

function insetChart(q) {
    const cv = document.getElementById(q.id);
    place(cv, q.canvas);
    const L = q.plot[0] - q.canvas.x, T = q.plot[1] - q.canvas.y;
    const R = q.plot[2] - q.canvas.x, B = q.plot[3] - q.canvas.y;
    const pts = (xs, ys) => ys.map((v, i) => ({ x: xs[i], y: v }));
    new Chart(cv, {
        type: 'line',
        data: {
            datasets: [
                { label: 'Selected', data: pts(q.selPeriods, q.selected), borderColor: RED, borderWidth: 10,
                  borderJoinStyle: 'round', tension: 0 },
                { label: 'Target', data: pts(q.tgtPeriods, q.target), borderColor: LIGHT_BLUE, borderWidth: 10,
                  borderDash: [34, 34], borderCapStyle: 'round', cubicInterpolationMode: 'monotone' }
            ]
        },
        options: {
            responsive: false,
            animation: false,
            devicePixelRatio: 1,
            layout: { padding: { left: 0, top: T, right: q.canvas.w - R, bottom: 0 } },
            elements: { point: { radius: 0 } },
            plugins: { legend: { display: false }, tooltip: { enabled: false } },
            scales: {
                x: axis({ type: 'logarithmic', min: q.xTicks[0], max: 2, ticks: q.xTicks, pad: q.xPad,
                          fontSize: 35, gridWidth: 3, tickLength: 15, tickWidth: 3, dash: [30, 14],
                          fit: s => { s.height = q.canvas.h - B; } }),
                y: axis({ min: 0, max: 1, ticks: sdTicks, pad: q.yPad, fontSize: 35, gridWidth: 3,
                          tickLength: 15, tickWidth: 3, dash: [30, 14],
                          fit: s => { s.width = L; } })
            }
        },
        plugins: [decor({
            ox: q.canvas.x, oy: q.canvas.y,
            box: q.legendBox, line: q.legendLine, textX: q.legendTextX,
            legendFont: '45px "Liberation Sans"',
            legend: [
                { label: 'Target', y: q.legendRows[0] },
                { label: 'Selected', y: q.legendRows[1] }
            ],
            frame: 4,
            titles: [
                { text: 'Standard deviation of ln(Sa)', x: q.yTitle[0], y: q.yTitle[1], rot: true,
                  font: 'bold 28px "DejaVu Sans"' },
                { text: 'Period (s)', x: q.xTitle[0], y: q.xTitle[1], font: 'bold 33px "Liberation Sans"' }
            ]
        })]
    });
}

mainChart({
    id: 'mainA', canvas: { x: 0, y: 0, w: 1855, h: 1150 }, plot: [264, 43, 1791, 860],
    periods: periodsA, target: targetA, mean: meanA, individuals: individualsA,
    yTicks: saTicksAC, yPad: 42, targetColor: DARK_BLUE, boldTitles: true,
    legendBox: [284, 51, 835, 269], legendLine: [331, 487], legendTextX: 520, legendRows: [88, 160, 231],
    tag: { text: '(a)', x: 369, y: 403 }, yTitle: [53, 438], xTitle: [1068, 1031]
});
mainChart({
    id: 'mainB', canvas: { x: 1855, y: 0, w: 1855, h: 1150 }, plot: [2145, 42, 3633, 860],
    periods: periodsB, target: targetB, mean: meanB, individuals: individualsB,
    yTicks: saTicksBD, yPad: 41, targetColor: LIGHT_BLUE, boldTitles: true,
    legendBox: [2165, 50, 2695, 268], legendLine: [2192, 2350], legendTextX: 2381, legendRows: [88, 156, 226],
    tag: { text: '(b)', x: 2263, y: 312 }, yTitle: [1944, 438], xTitle: [2935, 1031]
});
mainChart({
    id: 'mainC', canvas: { x: 0, y: 1150, w: 1855, h: 1155 }, plot: [259, 1264, 1764, 2086],
    periods: periodsC, target: targetC, mean: meanC, individuals: individualsC,
    yTicks: saTicksAC, yPad: 42, targetColor: DARK_BLUE, boldTitles: true,
    legendBox: [300, 1272, 823, 1490], legendLine: [319, 479], legendTextX: 511, legendRows: [1311, 1383, 1455],
    tag: { text: '(c)', x: 428, y: 1598 }, yTitle: [53, 1665], xTitle: [1059, 2257]
});
mainChart({
    id: 'mainD', canvas: { x: 1855, y: 1150, w: 1855, h: 1155 }, plot: [2128, 1268, 3637, 2083],
    periods: periodsD, target: targetD, mean: meanD, individuals: individualsD,
    yTicks: saTicksBD, yPad: 36, targetColor: LIGHT_BLUE, boldTitles: false,
    legendBox: [2145, 1276, 2684, 1489], legendLine: [2174, 2346], legendTextX: 2366, legendRows: [1311, 1382, 1451],
    tag: { text: '(d)', x: 2316, y: 1549 }, yTitle: [1920, 1661], xTitle: [2923, 2257]
});

insetChart({
    id: 'insetA', canvas: { x: 840, y: 52, w: 942, h: 655 }, plot: [1015, 93, 1712, 598],
    xTicks: insetTicksAC, yPad: 23, xPad: 19,
    tgtPeriods: insetTargetPeriodsA, target: insetTargetA, selPeriods: insetSelectedPeriodsA, selected: insetSelectedA,
    legendBox: [1030, 435, 1449, 590], legendLine: [1062, 1236], legendTextX: 1252, legendRows: [476, 546],
    yTitle: [881, 338], xTitle: [1402, 675]
});
insetChart({
    id: 'insetB', canvas: { x: 2700, y: 52, w: 925, h: 655 }, plot: [2884, 98, 3533, 598],
    xTicks: insetTicksBD, yPad: 26, xPad: 19,
    tgtPeriods: insetTargetPeriodsB, target: insetTargetB, selPeriods: insetSelectedPeriodsB, selected: insetSelectedB,
    legendBox: [2900, 432, 3310, 588], legendLine: [2926, 3097], legendTextX: 3113, legendRows: [474, 544],
    yTitle: [2736, 372], xTitle: [3204, 677]
});
insetChart({
    id: 'insetC', canvas: { x: 828, y: 1276, w: 927, h: 656 }, plot: [1001, 1316, 1688, 1820],
    xTicks: insetTicksAC, yPad: 28, xPad: 22,
    tgtPeriods: insetTargetPeriodsC, target: insetTargetC, selPeriods: insetSelectedPeriodsC, selected: insetSelectedC,
    legendBox: [1016, 1656, 1479, 1812], legendLine: [1071, 1242], legendTextX: 1260, legendRows: [1700, 1769],
    yTitle: [870, 1556], xTitle: [1386, 1898]
});
insetChart({
    id: 'insetD', canvas: { x: 2689, y: 1280, w: 938, h: 653 }, plot: [2872, 1321, 3530, 1822],
    xTicks: insetTicksBD, yPad: 22, xPad: 20,
    tgtPeriods: insetTargetPeriodsD, target: insetTargetD, selPeriods: insetSelectedPeriodsD, selected: insetSelectedD,
    legendBox: [2887, 1642, 3310, 1800], legendLine: [2917, 3091], legendTextX: 3107, legendRows: [1685, 1755],
    yTitle: [2728, 1598], xTitle: [3198, 1901]
});
</script>
</body>
</html>
